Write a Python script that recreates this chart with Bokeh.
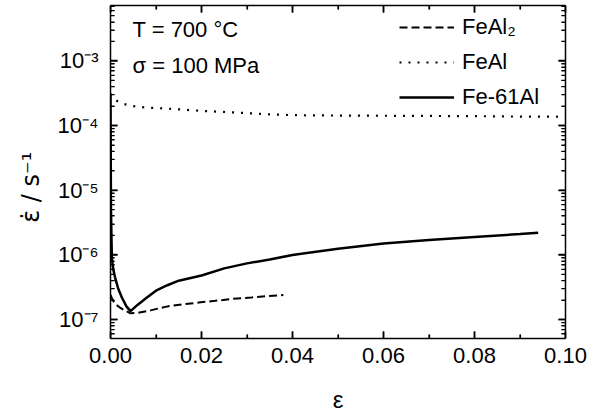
import math
from bokeh.plotting import figure
from bokeh.models import (Range1d, FixedTicker, LinearAxis, LogAxis, Label,
                          CustomJSTickFormatter, PrintfTickFormatter, Legend, LegendItem)
from bokeh.embed import file_html
from bokeh.resources import INLINE

# ---- data ----
feal2_strain = [0.0, 0.0005, 0.001, 0.002, 0.003, 0.0044, 0.006, 0.009, 0.0125, 0.016,
                0.0198, 0.023, 0.027, 0.031, 0.0344, 0.038]
feal2_rate = [2.4e-7, 2.0e-7, 1.75e-7, 1.55e-7, 1.4e-7, 1.25e-7, 1.27e-7, 1.4e-7, 1.6e-7, 1.72e-7,
              1.85e-7, 1.95e-7, 2.1e-7, 2.2e-7, 2.3e-7, 2.4e-7]

feal_strain = [0.0, 0.0005, 0.001, 0.002, 0.003, 0.005, 0.008, 0.0125, 0.02, 0.027, 0.0345,
               0.04, 0.05, 0.06, 0.07, 0.08, 0.09, 0.10]
feal_rate = [3.1e-4, 2.7e-4, 2.5e-4, 2.3e-4, 2.15e-4, 2.0e-4, 1.9e-4, 1.83e-4, 1.69e-4, 1.6e-4,
             1.5e-4, 1.45e-4, 1.43e-4, 1.42e-4, 1.41e-4, 1.40e-4, 1.38e-4, 1.37e-4]

fe61al_strain = [0.0, 0.0001, 0.0003, 0.0006, 0.001, 0.0017, 0.0025, 0.0035, 0.0044, 0.006,
                 0.008, 0.01, 0.0125, 0.015, 0.02, 0.025, 0.03, 0.035, 0.04, 0.05, 0.06, 0.07,
                 0.08, 0.09, 0.094]
fe61al_rate = [3.0e-4, 5e-6, 9e-7, 6e-7, 4.5e-7, 3.0e-7, 2.2e-7, 1.6e-7, 1.35e-7, 1.7e-7,
               2.2e-7, 2.8e-7, 3.4e-7, 4.0e-7, 4.8e-7, 6.2e-7, 7.4e-7, 8.5e-7, 1.0e-6, 1.25e-6,
               1.5e-6, 1.7e-6, 1.9e-6, 2.1e-6, 2.2e-6]

x_ticks = [0.0, 0.02, 0.04, 0.06, 0.08, 0.10]
x_minor = [0.01, 0.03, 0.05, 0.07, 0.09]
y_ticks = [1e-7, 1e-6, 1e-5, 1e-4, 1e-3]
y_minor = [k * 10.0 ** n for n in range(-8, -2) for k in range(2, 10)]

labels = ["FeAl\u2082", "FeAl", "Fe-61Al"]
annot = ["T = 700 \u00b0C", "\u03c3 = 100 MPa"]

X_LO, X_HI = 0.0, 0.10
Y_LO, Y_HI = 5.1e-8, 7.2e-3

FONT = "Liberation Sans"
FS = "22px"

p = figure(width=589, height=415, output_backend="svg", toolbar_location=None,
           y_axis_type="log", x_range=Range1d(X_LO, X_HI), y_range=Range1d(Y_LO, Y_HI),
           min_border_left=110, min_border_right=24, min_border_top=5, min_border_bottom=77)
p.xgrid.grid_line_color = "white"
p.ygrid.grid_line_color = "white"
p.outline_line_color = None

xt = FixedTicker(ticks=x_ticks, minor_ticks=x_minor)
yt = FixedTicker(ticks=y_ticks, minor_ticks=y_minor)

sup = CustomJSTickFormatter(code="""
const s = {'-':'\u207b','0':'\u2070','1':'\u00b9','2':'\u00b2','3':'\u00b3','4':'\u2074',
           '5':'\u2075','6':'\u2076','7':'\u2077','8':'\u2078','9':'\u2079'};
const e = Math.round(Math.log10(tick));
return '10' + String(e).split('').map(c => s[c]).join('');
""")


def style(ax):
    ax.axis_line_color = "black"
    ax.axis_line_width = 1.5
    ax.major_tick_in = 7
    ax.major_tick_out = 0
    ax.minor_tick_in = 4
    ax.minor_tick_out = 0
    ax.major_tick_line_width = 1.5
    ax.minor_tick_line_width = 1.2
    ax.major_tick_line_color = "black"
    ax.minor_tick_line_color = "black"
    ax.major_label_text_font = FONT
    ax.major_label_text_font_size = FS
    ax.major_label_text_color = "black"
    ax.axis_label_text_font = FONT
    ax.axis_label_text_font_size = "24px"
    ax.axis_label_text_font_style = "normal"
    ax.axis_label_text_color = "black"


xa = p.xaxis[0]
xa.ticker = xt
xa.formatter = PrintfTickFormatter(format="%.2f")
xa.axis_label = "\u03b5"
style(xa)
xa.major_label_standoff = 9
xa.axis_label_standoff = 20

ya = p.yaxis[0]
ya.ticker = yt
ya.formatter = sup
ya.axis_label = "\u03b5\u0307 / s\u207b\u00b9\u00a0\u00a0\u00a0\u00a0"
style(ya)
ya.axis_label_text_font = "DejaVu Sans"
ya.major_label_standoff = 12
ya.axis_label_standoff = 10

top = LinearAxis(ticker=xt)
style(top)
top.major_label_text_font_size = "1px"
top.major_label_text_color = None
top.major_label_standoff = 0
p.add_layout(top, "above")

right = LogAxis(ticker=yt)
style(right)
right.major_label_text_font_size = "1px"
right.major_label_text_color = None
right.major_label_standoff = 0
p.add_layout(right, "right")

# inward tick marks drawn as short screen-length rays from the frame edges
ym = [v for v in y_minor if Y_LO <= v <= Y_HI]
tick_sets = [
    (x_ticks, [Y_LO] * len(x_ticks), math.pi / 2, 7, 1.5),
    (x_ticks, [Y_HI] * len(x_ticks), -math.pi / 2, 7, 1.5),
    (x_minor, [Y_LO] * len(x_minor), math.pi / 2, 4, 1.2),
    (x_minor, [Y_HI] * len(x_minor), -math.pi / 2, 4, 1.2),
    ([X_LO] * len(y_ticks), y_ticks, 0.0, 7, 1.5),
    ([X_HI] * len(y_ticks), y_ticks, math.pi, 7, 1.5),
    ([X_LO] * len(ym), ym, 0.0, 4, 1.2),
    ([X_HI] * len(ym), ym, math.pi, 4, 1.2),
]
for tx, ty, ang, ln, lw in tick_sets:
    p.ray(x=tx, y=ty, length=ln, length_units="screen", angle=ang,
          line_color="black", line_width=lw)

r1 = p.line(feal2_strain, feal2_rate, line_color="black", line_width=2, line_dash="8 4")
r2 = p.line(feal_strain, feal_rate, line_color="black", line_width=2.2, line_dash="2 7")
r3 = p.line(fe61al_strain, fe61al_rate, line_color="black", line_width=2.5)

leg = Legend(items=[LegendItem(label=labels[0], renderers=[r1]),
                    LegendItem(label=labels[1], renderers=[r2]),
                    LegendItem(label=labels[2], renderers=[r3])],
             location=(289, 228))
leg.border_line_color = None
leg.background_fill_alpha = 0
leg.margin = 0
leg.padding = 5
leg.glyph_width = 55
leg.glyph_height = 24
leg.label_height = 24
leg.spacing = 9
leg.label_standoff = 8
leg.label_text_font = FONT
leg.label_text_font_size = FS
leg.label_text_color = "black"
p.add_layout(leg)

p.add_layout(Label(x=0.00484, y=3.11e-3, text=annot[0], text_font=FONT, text_font_size=FS,
                   text_baseline="middle", text_color="black"))
p.add_layout(Label(x=0.00484, y=8.6e-4, text=annot[1], text_font=FONT, text_font_size=FS,
                   text_baseline="middle", text_color="black"))

open("out.html", "w").write(file_html(p, INLINE))
